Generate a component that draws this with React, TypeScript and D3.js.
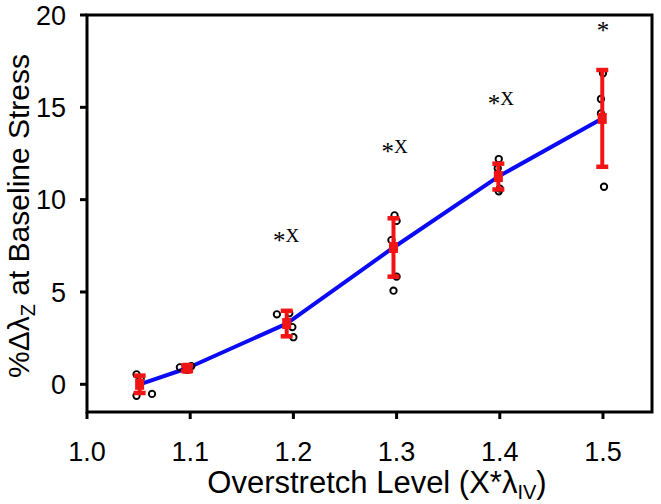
import React from "react";
import * as d3 from "d3";

const xTicks = [1.0, 1.1, 1.2, 1.3, 1.4, 1.5];
const yTicks = [0, 5, 10, 15, 20];

const meanX = [1.051, 1.097, 1.1935, 1.297, 1.3986, 1.4993];
const meanY = [0.0, 0.87, 3.29, 7.41, 11.25, 14.4];
const sdY = [0.47, 0.15, 0.69, 1.58, 0.7, 2.62];

const pointsX = [
  1.048, 1.048, 1.063, 1.052,
  1.09, 1.101, 1.097,
  1.184, 1.2, 1.199, 1.196,
  1.298, 1.3, 1.295, 1.3, 1.297,
  1.399, 1.399, 1.4, 1.398,
  1.5, 1.498, 1.498, 1.501,
];
const pointsY = [
  0.54, -0.62, -0.52, 0.3,
  0.92, 0.98, 0.78,
  3.79, 2.55, 3.1, 3.85,
  9.15, 8.85, 7.81, 5.83, 5.07,
  12.2, 10.45, 10.6, 11.7,
  16.84, 15.45, 14.67, 10.7,
];

const sigLabels = ["*", "*", "*", "*"];
const sigSuffix = ["X", "X", "X", ""];
const sigX = [1.193, 1.298, 1.401, 1.5];
const sigY = [7.7, 12.55, 15.15, 19.1];

const W = 661;
const H = 504;
const L = 87, R = 652, T = 15, B = 412;

export default function App() {
  const x = d3.scaleLinear().domain([1.0, 1.5475]).range([L, R]);
  const y = d3.scaleLinear().domain([-1.5, 20]).range([B, T]);
  const line = d3
    .line<number>()
    .x((_, i) => x(meanX[i]))
    .y((d) => y(d));

  const font = "Liberation Sans, Arial, sans-serif";
  return (
    <svg
      width={W}
      height={H}
      style={{ position: "absolute", left: 0, top: 0, background: "#fff" }}
    >
      <rect x={0} y={0} width={W} height={H} fill="#fff" />
      {/* frame */}
      <rect x={L} y={T} width={R - L} height={B - T} fill="none" stroke="#000" strokeWidth={3} />
      {/* y ticks */}
      {yTicks.map((t) => (
        <g key={"y" + t}>
          <line x1={L - 7} x2={L} y1={y(t)} y2={y(t)} stroke="#000" strokeWidth={3} />
          <text
            x={66}
            y={y(t)}
            dy="0.36em"
            textAnchor="end"
            fontFamily={font}
            fontSize={27}
            fill="#000"
          >
            {t}
          </text>
        </g>
      ))}
      {/* x ticks */}
      {xTicks.map((t) => (
        <g key={"x" + t}>
          <line x1={x(t)} x2={x(t)} y1={B} y2={B + 7} stroke="#000" strokeWidth={3} />
          <text
            x={x(t)}
            y={461}
            textAnchor="middle"
            fontFamily={font}
            fontSize={27}
            fill="#000"
          >
            {t.toFixed(1)}
          </text>
        </g>
      ))}
      {/* axis titles */}
      <text
        x={377}
        y={493}
        textAnchor="middle"
        fontFamily={font}
        fontSize={31}
        fill="#000"
      >
        Overstretch Level (X*λ
        <tspan fontSize={20} dy={6}>IV</tspan>
        <tspan dy={-6}>)</tspan>
      </text>
      <text
        transform={`translate(29,216) rotate(-90)`}
        textAnchor="middle"
        fontFamily={font}
        fontSize={30}
        fill="#000"
      >
        %Δλ
        <tspan fontSize={20} dy={6}>Z</tspan>
        <tspan dy={-6}> at Baseline Stress</tspan>
      </text>
      {/* blue mean line */}
      <path d={line(meanY) || ""} fill="none" stroke="#0a0af5" strokeWidth={4} strokeLinejoin="round" />
      {/* individual points */}
      {pointsX.map((px, i) => (
        <circle
          key={"p" + i}
          cx={x(px)}
          cy={y(pointsY[i])}
          r={3.2}
          fill="none"
          stroke="#000"
          strokeWidth={1.9}
        />
      ))}
      {/* error bars and means */}
      {meanX.map((mx, i) => {
        const cx = x(mx);
        const y1 = y(meanY[i] + sdY[i]);
        const y2 = y(meanY[i] - sdY[i]);
        return (
          <g key={"e" + i} stroke="#f01414" fill="#f01414">
            <line x1={cx} x2={cx} y1={y1} y2={y2} strokeWidth={4} />
            <line x1={cx - 6} x2={cx + 6} y1={y1} y2={y1} strokeWidth={4.5} />
            <line x1={cx - 6} x2={cx + 6} y1={y2} y2={y2} strokeWidth={4.5} />
            <rect x={cx - 4.5} y={y(meanY[i]) - 5.5} width={9} height={11} stroke="none" />
          </g>
        );
      })}
      {/* significance labels */}
      {sigX.map((sx, i) => (
        <text
          key={"s" + i}
          x={x(sx)}
          y={y(sigY[i])}
          textAnchor="middle"
          fontFamily="Liberation Serif, Times New Roman, serif"
          fontSize={19}
          fill="#000"
        >
          <tspan fontSize={25} dy={7}>{sigLabels[i]}</tspan>
          <tspan dy={-7}>{sigSuffix[i]}</tspan>
        </text>
      ))}
    </svg>
  );
}
